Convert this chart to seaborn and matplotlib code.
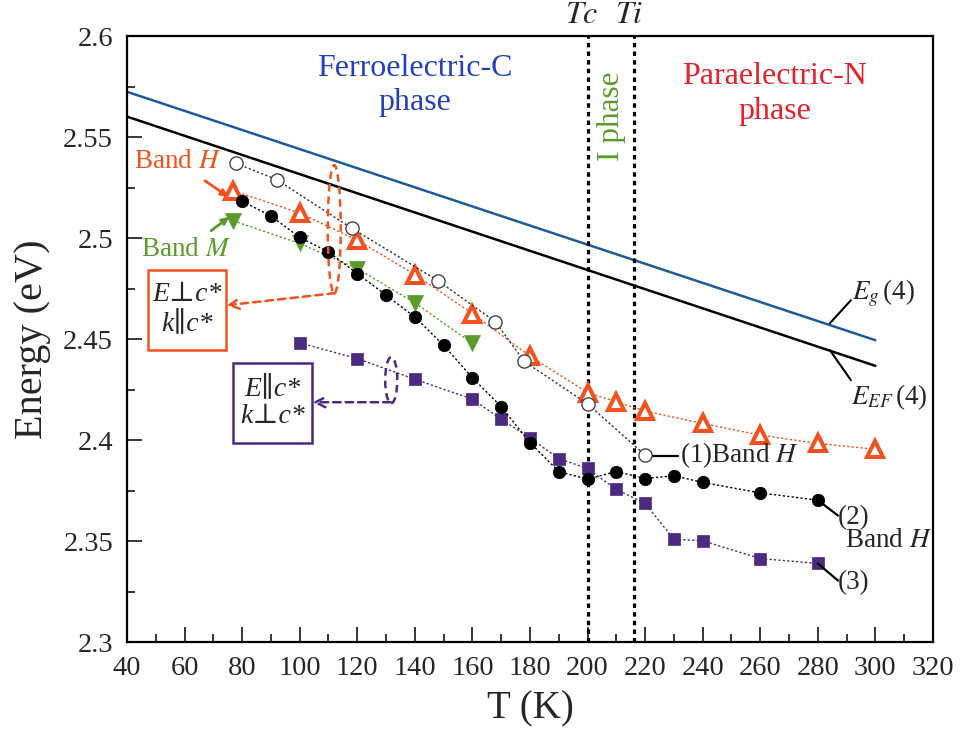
import matplotlib
matplotlib.use("Agg")
import matplotlib.pyplot as plt
import seaborn as sns
import pandas as pd
from matplotlib.patches import Ellipse, Rectangle
from matplotlib.ticker import MultipleLocator

# ---------------- data ----------------
T_open = [78, 92, 118, 148, 168, 178, 200, 220]
E_open = [2.537, 2.529, 2.505, 2.479, 2.4586, 2.439, 2.418, 2.3926]

T_fill = [80, 90, 100, 110, 120, 130, 140, 150, 160, 170, 180, 190, 200,
          210, 220, 230, 240, 260, 280]
E_fill = [2.5183, 2.511, 2.5004, 2.4932, 2.4825, 2.4718, 2.461, 2.447, 2.4309,
          2.4166, 2.3988, 2.3845, 2.3807, 2.3845, 2.381, 2.3824, 2.3791,
          2.3739, 2.3703]

T_triH = [77, 100, 120, 140, 160, 180, 200, 210, 220, 240, 260, 280, 300]
E_triH = [2.5234, 2.5125, 2.499, 2.482, 2.4627, 2.4416, 2.4236, 2.419,
          2.4144, 2.4083, 2.4025, 2.3984, 2.3955]

T_triM = [77, 100, 120, 140, 160]
E_triM = [2.5086, 2.4974, 2.485, 2.468, 2.4479]

T_sq = [100, 120, 140, 160, 170, 180, 190, 200, 210, 220, 230, 240, 260, 280]
E_sq = [2.4482, 2.4404, 2.4302, 2.4203, 2.4104, 2.4011, 2.3909, 2.386,
        2.3756, 2.3687, 2.351, 2.3502, 2.3414, 2.339]

T_line = [40, 300]
E_g = [2.5725, 2.4495]
E_EF = [2.5602, 2.4368]

T_c = 200
T_i = 216

x_ticks = list(range(40, 321, 20))
y_ticks = [2.3, 2.35, 2.4, 2.45, 2.5, 2.55, 2.6]

# ---------------- style ----------------
sns.set_style("ticks")
plt.rcParams["font.family"] = ["Liberation Serif", "DejaVu Serif"]
plt.rcParams["mathtext.fontset"] = "stix"

C_ORANGE = "#f4511e"
C_GREEN = "#5b9b2b"
C_PURPLE = "#4b2a82"
C_BLUE = "#1f5b99"
C_TXT_BLUE = "#2440c0"
C_TXT_RED = "#e8202a"

fig = plt.figure(figsize=(9.62, 7.45), dpi=100)
ax = fig.add_axes([0.132, 0.138, 0.8378, 0.8134])

dot = (0, (1.6, 1.6))

# theory lines
sns.lineplot(x=T_line, y=E_g, ax=ax, color=C_BLUE, linewidth=1.8)
sns.lineplot(x=T_line, y=E_EF, ax=ax, color="black", linewidth=1.8)

# data series
sns.lineplot(x=T_open, y=E_open, ax=ax, sort=False, estimator=None,
             color="#333333", linestyle=dot, linewidth=1.0, marker="o",
             markersize=9.5, markerfacecolor="white",
             markeredgecolor="#444444", markeredgewidth=1.0, zorder=4)
sns.lineplot(x=T_triH, y=E_triH, ax=ax, sort=False, estimator=None,
             color=C_ORANGE, linestyle=dot, linewidth=1.0, marker="^",
             markersize=11, markerfacecolor="white",
             markeredgecolor=C_ORANGE, markeredgewidth=2.9, zorder=3)
sns.lineplot(x=T_triM, y=E_triM, ax=ax, sort=False, estimator=None,
             color=C_GREEN, linestyle=dot, linewidth=1.0, marker="v",
             markersize=11.5, markerfacecolor=C_GREEN,
             markeredgecolor=C_GREEN, markeredgewidth=0.5, zorder=3)
sns.lineplot(x=T_sq, y=E_sq, ax=ax, sort=False, estimator=None,
             color=C_PURPLE, linestyle=dot, linewidth=1.0, marker="s",
             markersize=8, markerfacecolor=C_PURPLE,
             markeredgecolor=C_PURPLE, markeredgewidth=0.5, zorder=3)
sns.lineplot(x=T_fill, y=E_fill, ax=ax, sort=False, estimator=None,
             color="black", linestyle=dot, linewidth=1.0, marker="o",
             markersize=9, markerfacecolor="black",
             markeredgecolor="black", markeredgewidth=0.5, zorder=5)

# transition lines
for tv in (T_c, T_i):
    ax.axvline(tv, color="black", linestyle=(0, (1.4, 1.3)), linewidth=2.3,
               zorder=2)

# ---------------- axes ----------------
ax.set_xlim(40, 320)
ax.set_ylim(2.3, 2.6)
ax.set_xticks(x_ticks)
ax.set_yticks(y_ticks)
ax.set_yticklabels([f"{v:g}" for v in y_ticks])
ax.xaxis.set_minor_locator(MultipleLocator(10))
ax.yaxis.set_minor_locator(MultipleLocator(0.025))
ax.tick_params(which="major", direction="in", length=11, width=1.3,
               labelsize=20.5, pad=10, top=False, right=False)
ax.tick_params(which="minor", direction="in", length=6, width=1.3,
               top=False, right=False)
for s in ax.spines.values():
    s.set_linewidth(1.6)
    s.set_color("black")
ax.set_xlabel("T (K)", fontsize=28, labelpad=7)
ax.set_ylabel("Energy (eV)", fontsize=29, labelpad=9)

# ---------------- annotations ----------------
ax.text(140, 2.5755, "Ferroelectric-C\nphase", color=C_TXT_BLUE, fontsize=23,
        ha="center", va="center", linespacing=1.25)
ax.text(265, 2.5715, "Paraelectric-N\nphase", color=C_TXT_RED, fontsize=23,
        ha="center", va="center", linespacing=1.25)
ax.text(208.3, 2.5605, "I phase", color=C_GREEN, fontsize=22.5, rotation=90,
        ha="center", va="center")
ax.text(T_c - 2, 1.01, r"$Tc$", transform=ax.get_xaxis_transform(),
        fontsize=23, ha="center", va="bottom")
ax.text(T_i - 1.5, 1.01, r"$Ti$", transform=ax.get_xaxis_transform(),
        fontsize=23, ha="center", va="bottom")

# Eg / EF labels
ax.plot([284.2, 291.5], [2.4579, 2.4693], color="black", lw=1.5)
ax.plot([284.2, 291.5], [2.4446, 2.4297], color="black", lw=1.5)
ax.text(292, 2.4725, r"$E_g\,$(4)", fontsize=19.5, ha="left", va="center")
ax.text(291.5, 2.4215, r"$E_{EF}\,$(4)", fontsize=19.5, ha="left",
        va="center")

# (1), (2), (3) labels
ax.plot([220.5, 231.5], [2.3924, 2.3924], color="black", lw=1.6, zorder=3)
ax.text(232, 2.3924, r"(1)Band $H$", fontsize=19.5, ha="left", va="center")
ax.plot([280, 287], [2.3703, 2.3627], color="black", lw=1.6, zorder=3)
ax.text(287, 2.3615, "(2)", fontsize=19.5, ha="left", va="center")
ax.text(289.5, 2.3502, r"Band $H$", fontsize=19.5, ha="left", va="center")
ax.plot([280, 287], [2.339, 2.3305], color="black", lw=1.6, zorder=3)
ax.text(287, 2.3293, "(3)", fontsize=19.5, ha="left", va="center")

# Band H / Band M labels
ax.annotate(r"Band $H$", xy=(75.2, 2.5205), xytext=(57.5, 2.5378),
            color=C_ORANGE, fontsize=19.5, ha="center", va="center",
            arrowprops=dict(arrowstyle="-|>", color=C_ORANGE, lw=2,
                            shrinkA=4, shrinkB=0, mutation_scale=10))
ax.annotate(r"Band $M$", xy=(75.5, 2.5105), xytext=(60.5, 2.4942),
            color=C_GREEN, fontsize=19.5, ha="center", va="center",
            arrowprops=dict(arrowstyle="-|>", color=C_GREEN, lw=2,
                            shrinkA=4, shrinkB=0, mutation_scale=10))

# polarization boxes
box_font = dict(fontsize=20, style="italic",
                family=["Liberation Serif", "DejaVu Serif"],
                ha="center", va="center", linespacing=1.15, zorder=7)
ax.add_patch(Rectangle((47.3, 2.4446), 27.1, 0.0396, fill=False,
                       edgecolor=C_ORANGE, lw=1.8, zorder=6))
ax.text(60.9, 2.4648, "E\u22A5c*\nk\u2225c*", **box_font)
ax.add_patch(Rectangle((76.9, 2.3985), 27.4, 0.0396, fill=False,
                       edgecolor=C_PURPLE, lw=1.8, zorder=6))
ax.text(90.6, 2.4187, "E\u2225c*\nk\u22A5c*", **box_font)

# dashed ellipses and arrows
ax.add_patch(Ellipse((112, 2.5045), 4.5, 0.0634, fill=False,
                     edgecolor=C_ORANGE, lw=1.8, linestyle=(0, (3, 2)),
                     zorder=6))
ax.annotate("", xy=(74.6, 2.4668), xytext=(112.3, 2.4728),
            arrowprops=dict(arrowstyle="->", color=C_ORANGE, lw=1.8,
                            linestyle=(0, (3, 2)), shrinkA=0, shrinkB=0,
                            mutation_scale=18))
ax.add_patch(Ellipse((131.8, 2.4297), 4.2, 0.0228, fill=False,
                     edgecolor=C_PURPLE, lw=1.8, linestyle=(0, (3, 2)),
                     zorder=6))
ax.annotate("", xy=(104.5, 2.4188), xytext=(131.6, 2.4188),
            arrowprops=dict(arrowstyle="->", color=C_PURPLE, lw=1.8,
                            linestyle=(0, (3, 2)), shrinkA=0, shrinkB=0,
                            mutation_scale=18))

fig.savefig("out.png", dpi=100)
